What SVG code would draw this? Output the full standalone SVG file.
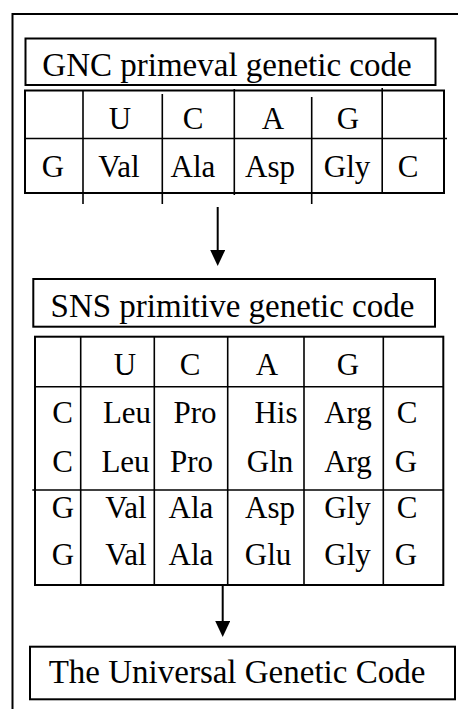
<svg xmlns="http://www.w3.org/2000/svg" width="458" height="709" viewBox="0 0 458 709">
  <style>
    .box { fill: #fff; stroke: #000; stroke-width: 2; }
    .ln { stroke: #000; stroke-width: 1.6; fill: none; }
    .frame { stroke: #000; stroke-width: 2; fill: none; }
    .title { font-family: "Liberation Serif", "Times New Roman", serif; font-size: 33px; fill: #000; text-anchor: middle; }
    .cell { font-family: "Liberation Serif", "Times New Roman", serif; font-size: 31px; fill: #000; text-anchor: middle; }
    .conn { stroke: #000; stroke-width: 2; fill: none; }
  </style>
  <defs>
    <marker id="arrow" viewBox="0 0 16 15" refX="0" refY="7.5" markerWidth="16" markerHeight="15" markerUnits="userSpaceOnUse" orient="auto">
      <path d="M0,0 L16,7.5 L0,15 z" fill="#000"/>
    </marker>
  </defs>
  <rect width="458" height="709" fill="#fff"/>

  <g id="frame">
    <path class="frame" d="M12.5,709 V14 H458"/>
  </g>

  <g id="node-gnc-title">
    <rect class="box" x="25.5" y="38.5" width="410" height="46.5"/>
    <text class="title" x="227" y="75.5">GNC primeval genetic code</text>
  </g>

  <g id="node-gnc-table">
    <rect class="box" x="25" y="90.5" width="419" height="102.5"/>
    <line class="ln" x1="25" y1="138.5" x2="447" y2="138.5"/>
    <line class="ln" x1="83" y1="90" x2="83" y2="204"/>
    <line class="ln" x1="162.3" y1="94" x2="162.3" y2="204"/>
    <line class="ln" x1="234.3" y1="89" x2="234.3" y2="195"/>
    <line class="ln" x1="311.7" y1="97" x2="311.7" y2="204"/>
    <line class="ln" x1="382.2" y1="88" x2="382.2" y2="193"/>
    <text class="cell" x="120" y="129">U</text>
    <text class="cell" x="193" y="129">C</text>
    <text class="cell" x="273" y="129">A</text>
    <text class="cell" x="348" y="129">G</text>
    <text class="cell" x="53" y="177">G</text>
    <text class="cell" x="119" y="177">Val</text>
    <text class="cell" x="193" y="177">Ala</text>
    <text class="cell" x="270" y="177">Asp</text>
    <text class="cell" x="347" y="177">Gly</text>
    <text class="cell" x="408" y="177">C</text>
  </g>

  <g id="node-sns-title">
    <rect class="box" x="33.3" y="279" width="401.7" height="47.7"/>
    <text class="title" x="232.5" y="317">SNS primitive genetic code</text>
  </g>

  <g id="node-sns-table">
    <rect class="box" x="35" y="336.7" width="408.3" height="248.3"/>
    <line class="ln" x1="35" y1="386.7" x2="443.3" y2="386.7"/>
    <line class="ln" x1="32.3" y1="490" x2="443.3" y2="490"/>
    <line class="ln" x1="80.7" y1="336.7" x2="80.7" y2="585"/>
    <line class="ln" x1="154.3" y1="336.7" x2="154.3" y2="585"/>
    <line class="ln" x1="227.7" y1="336.7" x2="227.7" y2="585"/>
    <line class="ln" x1="304" y1="336.7" x2="304" y2="585"/>
    <line class="ln" x1="383.3" y1="336.7" x2="383.3" y2="585"/>
    <text class="cell" x="125" y="375">U</text>
    <text class="cell" x="190" y="375">C</text>
    <text class="cell" x="267" y="375">A</text>
    <text class="cell" x="348" y="375">G</text>

    <text class="cell" x="62.5" y="423">C</text>
    <text class="cell" x="127" y="423">Leu</text>
    <text class="cell" x="195" y="423">Pro</text>
    <text class="cell" x="276" y="423">His</text>
    <text class="cell" x="348" y="423">Arg</text>
    <text class="cell" x="407" y="423">C</text>

    <text class="cell" x="62.5" y="472">C</text>
    <text class="cell" x="125.5" y="472">Leu</text>
    <text class="cell" x="191.5" y="472">Pro</text>
    <text class="cell" x="270" y="472">Gln</text>
    <text class="cell" x="348" y="472">Arg</text>
    <text class="cell" x="406" y="472">G</text>

    <text class="cell" x="63" y="518">G</text>
    <text class="cell" x="126" y="518">Val</text>
    <text class="cell" x="191" y="518">Ala</text>
    <text class="cell" x="270" y="518">Asp</text>
    <text class="cell" x="347.5" y="518">Gly</text>
    <text class="cell" x="407" y="518">C</text>

    <text class="cell" x="63" y="565">G</text>
    <text class="cell" x="126" y="565">Val</text>
    <text class="cell" x="191" y="565">Ala</text>
    <text class="cell" x="268" y="565">Glu</text>
    <text class="cell" x="347.5" y="565">Gly</text>
    <text class="cell" x="406" y="565">G</text>
  </g>

  <g id="node-universal">
    <rect class="box" x="30" y="646.7" width="425" height="52.6"/>
    <text class="title" x="237" y="683">The Universal Genetic Code</text>
  </g>

  <g id="connectors">
    <line class="conn" x1="217.7" y1="207" x2="217.7" y2="250" marker-end="url(#arrow)"/>
    <line class="conn" x1="222.7" y1="585" x2="222.7" y2="621" marker-end="url(#arrow)"/>
  </g>
</svg>
